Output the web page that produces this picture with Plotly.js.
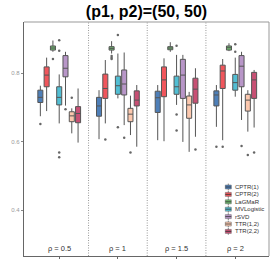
<!DOCTYPE html>
<html><head><meta charset="utf-8">
<script src="https://cdn.plot.ly/plotly-3.0.1.min.js"></script>
<style>html,body{margin:0;padding:0;background:#fff;}#chart{width:273px;height:273px;}</style>
</head><body><div id="chart"></div>
<script>
const methods = ['CPTR(1)','CPTR(2)','LaGMaR','MVLogistic','rSVD','TTR(1,2)','TTR(2,2)'];
const colors = ['#4E7FB8','#F0565C','#6EBA6E','#52BED3','#B896C8','#FCC8AE','#C85074'];
const rhoLabels = ['ρ = 0.5','ρ = 1','ρ = 1.5','ρ = 2'];
const rhoPos = [1,2,3,4];
const yTicks = [0.4, 0.6, 0.8];

// rows: methods, columns: rho levels
const lowerWhisker = [
  [0.674,0.607,0.604,0.643],
  [0.689,0.653,0.601,0.604],
  [0.862,0.857,0.862,0.864],
  [0.653,0.726,0.707,0.731],
  [0.705,0.648,0.599,0.663],
  [0.624,0.619,0.570,0.629],
  [0.597,0.585,0.614,0.641]
];
const q1 = [
  [0.714,0.674,0.685,0.704],
  [0.760,0.726,0.731,0.755],
  [0.867,0.867,0.868,0.867],
  [0.707,0.738,0.738,0.750],
  [0.789,0.736,0.726,0.760],
  [0.658,0.658,0.668,0.689],
  [0.655,0.704,0.712,0.726]
];
const median = [
  [0.729,0.704,0.728,0.736],
  [0.794,0.755,0.780,0.806],
  [0.873,0.872,0.873,0.874],
  [0.729,0.763,0.760,0.772],
  [0.814,0.768,0.794,0.820],
  [0.675,0.680,0.707,0.721],
  [0.682,0.721,0.753,0.780]
];
const q3 = [
  [0.750,0.729,0.747,0.748],
  [0.818,0.797,0.818,0.823],
  [0.879,0.877,0.877,0.879],
  [0.760,0.791,0.791,0.796],
  [0.851,0.809,0.840,0.851],
  [0.687,0.697,0.733,0.738],
  [0.702,0.748,0.785,0.802]
];
const upperWhisker = [
  [0.763,0.750,0.765,0.765],
  [0.845,0.838,0.843,0.841],
  [0.895,0.893,0.890,0.887],
  [0.796,0.857,0.853,0.845],
  [0.862,0.860,0.853,0.862],
  [0.697,0.734,0.745,0.750],
  [0.755,0.765,0.814,0.809]
];
// null = no outlier for that box
const outliers = [
  [[0.651],[null],[null],[0.585]],
  [[null],[0.606],[null],[0.585]],
  [[0.841],[0.850,0.845,0.841],[null],[null]],
  [[0.896,0.865,0.568,0.554],[0.911,0.642],[0.880,0.679,0.632],[0.884,0.862]],
  [[0.694],[0.611],[null],[0.587]],
  [[0.728],[0.568],[null],[0.561]],
  [[null],[null],[0.577],[0.568]]
];

const traces = methods.map((m, i) => ({
  type: 'box',
  name: m,
  orientation: 'v',
  x: rhoPos,
  q1: q1[i], median: median[i], q3: q3[i],
  lowerfence: lowerWhisker[i], upperfence: upperWhisker[i],
  y: outliers[i],
  boxpoints: 'outliers',
  jitter: 0, pointpos: 0,
  whiskerwidth: 0,
  fillcolor: colors[i],
  line: {color: '#555', width: 1},
  marker: {color: '#666', size: 2.5, line: {width: 0}},
  showlegend: false,
  hoverinfo: 'skip'
}));

const L = 24, R = 4, T = 22, B = 17, W = 273, H = 273;
const pw = W - L - R, ph = H - T - B;
const px2x = px => (px - L) / pw;
const py2y = py => (H - B - py) / ph;

const shapes = [];
const annotations = [];
// facet separators
for (let k = 0; k < rhoPos.length - 1; k++) {
  const xm = (rhoPos[k] + rhoPos[k+1]) / 2;
  shapes.push({type:'line', xref:'x', yref:'paper', x0:xm, x1:xm, y0:0, y1:1,
    line:{color:'#999', width:1, dash:'1px,1.5px'}, layer:'below'});
}
// top & right border
shapes.push({type:'line', xref:'paper', yref:'paper', x0:0, x1:1, y0:1, y1:1, line:{color:'#999', width:1}});
shapes.push({type:'line', xref:'paper', yref:'paper', x0:1, x1:1, y0:0, y1:1, line:{color:'#999', width:1}});

// facet labels
rhoLabels.forEach((t, k) => annotations.push({
  text: t, x: rhoPos[k], xref: 'x', y: py2y(248.5), yref: 'paper',
  showarrow: false, xanchor: 'center', yanchor: 'middle',
  font: {family: 'Liberation Sans, Arial, sans-serif', size: 7.5, color: '#333'}
}));

// manual legend
methods.forEach((m, i) => {
  const ry = 187 + 7.4 * i;
  const cx = 228.3;
  shapes.push({type:'line', xref:'paper', yref:'paper', x0:px2x(cx), x1:px2x(cx), y0:py2y(ry+3.4), y1:py2y(ry-3.4), line:{color:'#666', width:0.8}});
  shapes.push({type:'rect', xref:'paper', yref:'paper', x0:px2x(225.3), x1:px2x(231.3), y0:py2y(ry+2), y1:py2y(ry-2), fillcolor: colors[i], line:{color:'#666', width:0.5}});
  shapes.push({type:'line', xref:'paper', yref:'paper', x0:px2x(225.3), x1:px2x(231.3), y0:py2y(ry), y1:py2y(ry), line:{color:'#333', width:0.8}});
  annotations.push({text: m, xref:'paper', yref:'paper', x: px2x(232.5), y: py2y(ry),
    xanchor:'left', yanchor:'middle', showarrow:false,
    font:{family:'Liberation Sans, Arial, sans-serif', size:6, color:'#333'}});
});

const layout = {
  width: W, height: H,
  margin: {l: L, r: R, t: T, b: B, pad: 0},
  paper_bgcolor: '#fff', plot_bgcolor: '#fff',
  title: {text: '<b>(p1, p2)=(50, 50)</b>', x: 0.5, xref: 'paper', xanchor: 'center',
    y: 1 - 11/273, yref: 'container', yanchor: 'middle',
    font: {family: 'Liberation Sans, Arial, sans-serif', size: 16, color: '#000'}},
  boxmode: 'group', boxgap: 0.25, boxgroupgap: 0.2,
  showlegend: false,
  xaxis: {type: 'linear', range: [0.4, 4.575], tickvals: rhoPos, showticklabels: false,
    ticks: 'outside', ticklen: 2, tickcolor: '#666', tickwidth: 1,
    showline: true, linecolor: '#666', linewidth: 1.3, showgrid: false, zeroline: false},
  yaxis: {type: 'linear', range: [0.266, 0.949], tickvals: yTicks, ticktext: yTicks.map(v => v.toFixed(1)),
    tickfont: {family: 'Liberation Sans, Arial, sans-serif', size: 6, color: '#999'},
    ticks: 'outside', ticklen: 2, tickcolor: '#888', tickwidth: 1,
    showline: true, linecolor: '#666', linewidth: 1.3, showgrid: false, zeroline: false},
  shapes: shapes,
  annotations: annotations
};

Plotly.newPlot('chart', traces, layout, {staticPlot: true, displayModeBar: false});
</script>
</body></html>
